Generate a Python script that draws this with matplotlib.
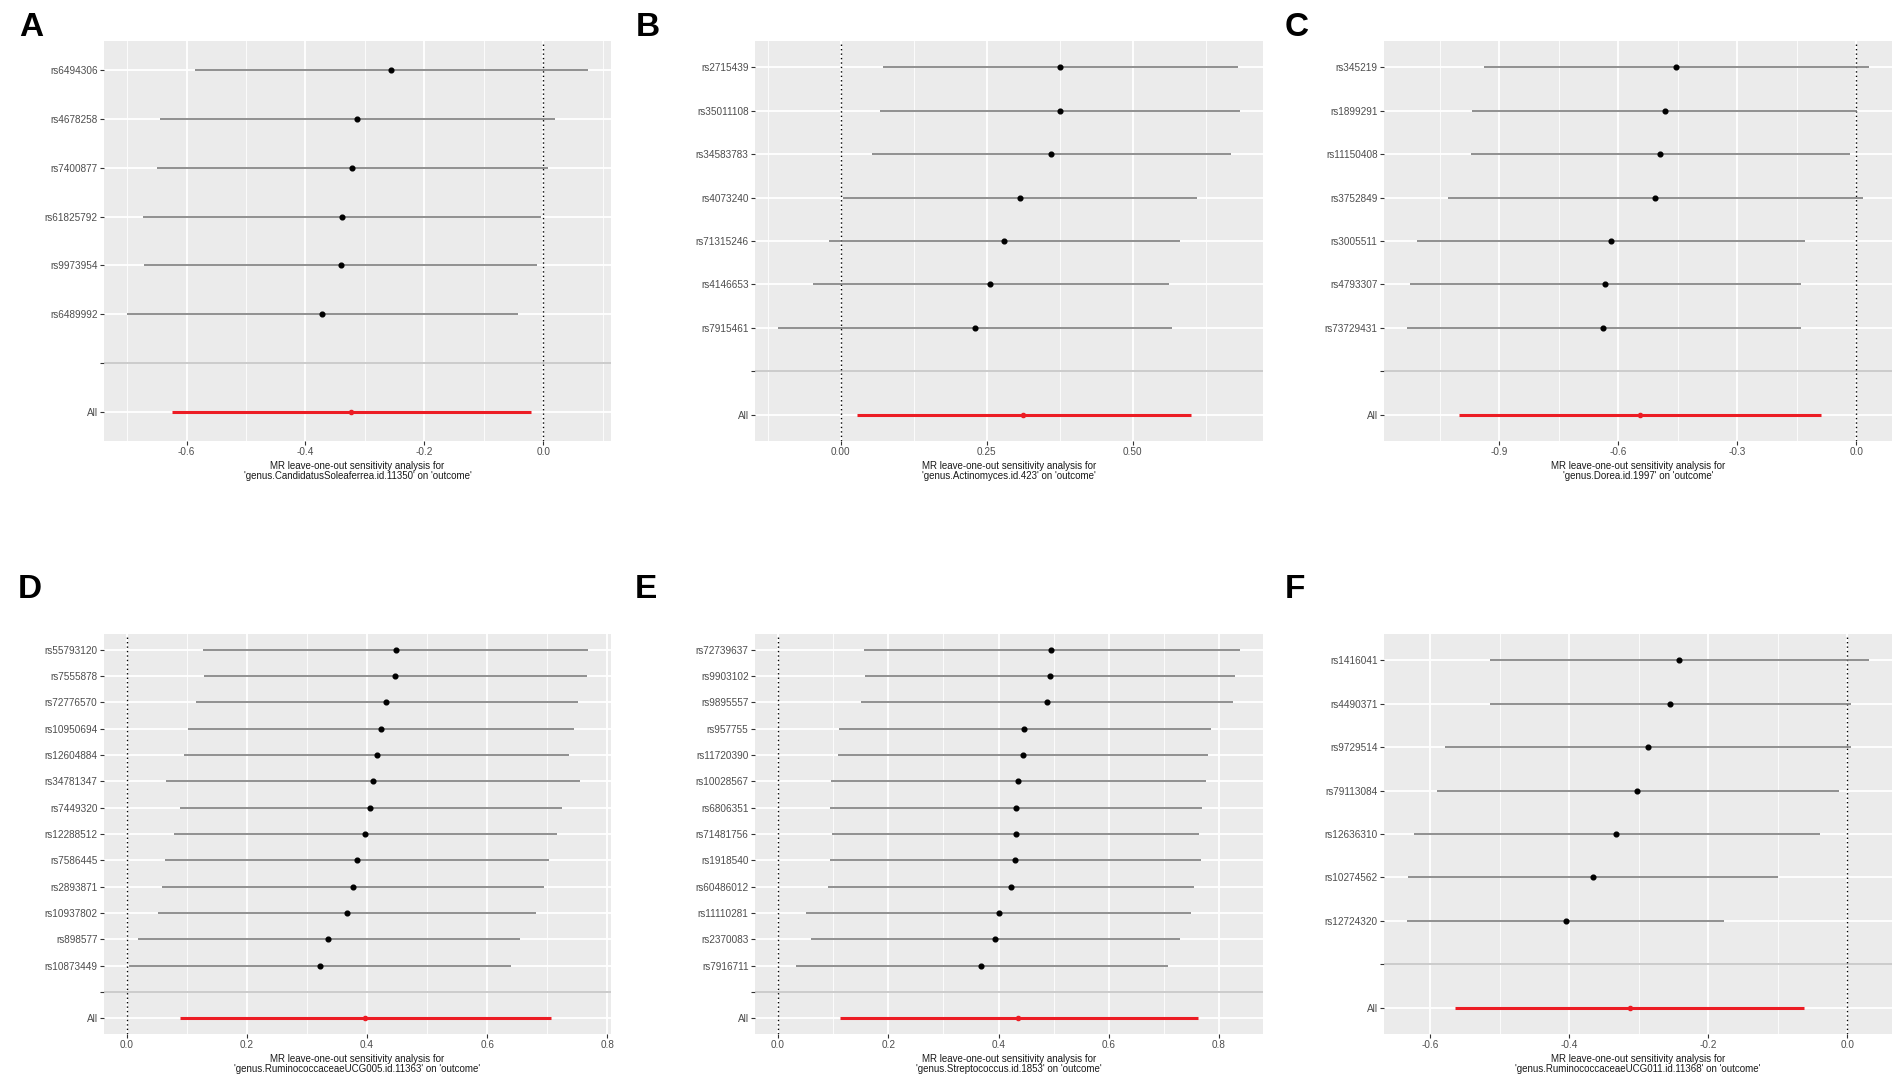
import matplotlib
matplotlib.use("Agg")
import matplotlib.pyplot as plt
from matplotlib.ticker import MultipleLocator, FormatStrFormatter

plt.rcParams['font.family'] = ['Liberation Sans', 'DejaVu Sans']
plt.rcParams['axes.unicode_minus'] = False

# ---------------- data ----------------
A_snps = ["rs6494306", "rs4678258", "rs7400877", "rs61825792", "rs9973954", "rs6489992"]
A_b = [-0.256, -0.313, -0.321, -0.339, -0.340, -0.372]
A_lo = [-0.585, -0.645, -0.650, -0.674, -0.672, -0.700]
A_up = [0.075, 0.019, 0.008, -0.004, -0.010, -0.042]
A_all = [-0.324, -0.625, -0.021]

B_snps = ["rs2715439", "rs35011108", "rs34583783", "rs4073240", "rs71315246", "rs4146653", "rs7915461"]
B_b = [0.376, 0.376, 0.360, 0.307, 0.279, 0.256, 0.229]
B_lo = [0.072, 0.067, 0.053, 0.004, -0.020, -0.048, -0.107]
B_up = [0.680, 0.683, 0.667, 0.609, 0.580, 0.562, 0.566]
B_all = [0.312, 0.028, 0.599]

C_snps = ["rs345219", "rs1899291", "rs11150408", "rs3752849", "rs3005511", "rs4793307", "rs73729431"]
C_b = [-0.453, -0.482, -0.494, -0.507, -0.619, -0.632, -0.637]
C_lo = [-0.937, -0.968, -0.971, -1.028, -1.107, -1.125, -1.132]
C_up = [0.032, 0.002, -0.015, 0.017, -0.128, -0.138, -0.138]
C_all = [-0.545, -1.001, -0.089]

D_snps = ["rs55793120", "rs7555878", "rs72776570", "rs10950694", "rs12604884", "rs34781347",
          "rs7449320", "rs12288512", "rs7586445", "rs2893871", "rs10937802", "rs898577", "rs10873449"]
D_b = [0.448, 0.446, 0.432, 0.423, 0.416, 0.410, 0.405, 0.397, 0.383, 0.377, 0.366, 0.335, 0.321]
D_lo = [0.127, 0.129, 0.115, 0.102, 0.095, 0.065, 0.088, 0.079, 0.063, 0.059, 0.052, 0.018, 0.003]
D_up = [0.768, 0.766, 0.752, 0.745, 0.736, 0.755, 0.724, 0.717, 0.703, 0.695, 0.682, 0.655, 0.639]
D_all = [0.397, 0.089, 0.706]

E_snps = ["rs72739637", "rs9903102", "rs9895557", "rs957755", "rs11720390", "rs10028567",
          "rs6806351", "rs71481756", "rs1918540", "rs60486012", "rs11110281", "rs2370083", "rs7916711"]
E_b = [0.496, 0.493, 0.488, 0.447, 0.445, 0.436, 0.432, 0.432, 0.430, 0.423, 0.400, 0.393, 0.369]
E_lo = [0.155, 0.157, 0.150, 0.110, 0.108, 0.096, 0.094, 0.098, 0.094, 0.091, 0.051, 0.059, 0.033]
E_up = [0.838, 0.829, 0.825, 0.786, 0.781, 0.776, 0.770, 0.764, 0.767, 0.755, 0.749, 0.729, 0.708]
E_all = [0.436, 0.112, 0.762]

F_snps = ["rs1416041", "rs4490371", "rs9729514", "rs79113084", "rs12636310", "rs10274562", "rs12724320"]
F_b = [-0.242, -0.255, -0.286, -0.302, -0.332, -0.365, -0.405]
F_lo = [-0.514, -0.514, -0.579, -0.590, -0.623, -0.631, -0.633]
F_up = [0.031, 0.005, 0.005, -0.012, -0.040, -0.099, -0.178]
F_all = [-0.312, -0.564, -0.062]

exposures = ["genus.CandidatusSoleaferrea.id.11350", "genus.Actinomyces.id.423", "genus.Dorea.id.1997",
             "genus.RuminococcaceaeUCG005.id.11363", "genus.Streptococcus.id.1853",
             "genus.RuminococcaceaeUCG011.id.11368"]
panel_letters = ["A", "B", "C", "D", "E", "F"]
tick_steps = [0.2, 0.25, 0.3, 0.2, 0.2, 0.2]
tick_decimals = [1, 2, 1, 1, 1, 1]

panels = [
    (A_snps, A_b, A_lo, A_up, A_all),
    (B_snps, B_b, B_lo, B_up, B_all),
    (C_snps, C_b, C_lo, C_up, C_all),
    (D_snps, D_b, D_lo, D_up, D_all),
    (E_snps, E_b, E_lo, E_up, E_all),
    (F_snps, F_b, F_lo, F_up, F_all),
]

# ---------------- layout (pixels) ----------------
W, H = 1902, 1083
fig = plt.figure(figsize=(W / 100, H / 100), dpi=100)
fig.patch.set_facecolor("white")

col_x = [(104, 611), (755, 1263), (1384, 1892)]
row_y = [(41, 441), (634, 1034)]
label_pos = [(31, 28), (648, 28), (1297, 28), (30, 590), (646, 590), (1295, 590)]

BG = "#EBEBEB"
LINE_C = "#777777"
RED = "#ec1c24"

for i, (snps, b, lo, up, allv) in enumerate(panels):
    r, c = divmod(i, 3)
    x0, x1 = col_x[c]
    ytop, ybot = row_y[r]
    ax = fig.add_axes([x0 / W, 1 - ybot / H, (x1 - x0) / W, (ybot - ytop) / H])
    ax.set_facecolor(BG)
    for s in ax.spines.values():
        s.set_visible(False)

    n = len(snps)
    ypos = [n + 2 - k for k in range(n)]

    # x range (ggplot-like 5% expansion, including 0 reference line)
    lo_all = min(min(lo), allv[1], 0.0)
    hi_all = max(max(up), allv[2], 0.0)
    rng = hi_all - lo_all
    ax.set_xlim(lo_all - 0.05 * rng, hi_all + 0.05 * rng)
    ax.set_ylim(0.4, n + 2.6)

    step = tick_steps[i]
    ax.xaxis.set_major_locator(MultipleLocator(step))
    ax.xaxis.set_minor_locator(MultipleLocator(step / 2))
    ax.xaxis.set_major_formatter(FormatStrFormatter("%%.%df" % tick_decimals[i]))

    yt = [1, 2] + ypos[::-1]
    ylabels = ["All", ""] + snps[::-1]
    ax.set_yticks(yt)
    ax.set_yticklabels(ylabels)

    ax.set_axisbelow(True)
    ax.grid(which="major", axis="both", color="white", linewidth=1.3)
    ax.grid(which="minor", axis="x", color="white", linewidth=0.6)

    ax.tick_params(axis="both", which="major", length=2.6, width=0.8, color="#333333",
                   labelsize=7.2, labelcolor="#4D4D4D", pad=2)
    ax.tick_params(axis="both", which="minor", length=0)

    # separator line
    ax.axhline(2, color="#BEBEBE", linewidth=1.1, zorder=2)
    # reference line
    ax.axvline(0, color="black", linewidth=1.0, linestyle=(0, (1, 2.2)), zorder=3)

    # SNP rows
    ax.hlines(ypos, lo, up, color=LINE_C, linewidth=1.15, zorder=4)
    ax.plot(b, ypos, "o", color="black", markersize=3.4, zorder=5)
    # All row
    ax.hlines([1], [allv[1]], [allv[2]], color=RED, linewidth=2.2, zorder=4)
    ax.plot([allv[0]], [1], "o", color=RED, markersize=3.0, zorder=5)

    ax.set_xlabel("MR leave-one-out sensitivity analysis for\n'%s' on 'outcome'" % exposures[i],
                  fontsize=7.0, color="#1a1a1a", labelpad=2.5, linespacing=1.05)

    lx, ly = label_pos[i]
    fig.text(lx / W, 1 - ly / H, panel_letters[i], fontsize=24, fontweight="bold",
             ha="center", va="center", color="black")

fig.savefig("out.png", dpi=100, facecolor="white")
